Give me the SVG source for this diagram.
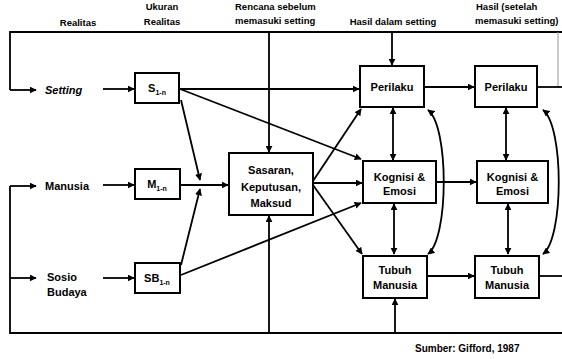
<svg xmlns="http://www.w3.org/2000/svg" width="562" height="359" viewBox="0 0 562 359">
<defs>
<marker id="ah" viewBox="0 0 10 10" refX="9" refY="5" markerWidth="7" markerHeight="7" markerUnits="userSpaceOnUse" orient="auto-start-reverse">
<path d="M0,0 L10,5 L0,10 z" fill="#000"/>
</marker>
<style>
text{font-family:"Liberation Sans",Arial,sans-serif;fill:#000;font-weight:bold}
.bx{fill:#fff;stroke:#000;stroke-width:2}
.lbl{font-size:11px;text-anchor:middle}
.side{font-size:11px}
.top{font-size:9.5px}
.c{fill:none;stroke:#000;stroke-width:1.8}
.a{marker-end:url(#ah)}
.d{marker-start:url(#ah);marker-end:url(#ah)}
.sub{font-size:7px}
</style>
</defs>
<rect width="562" height="359" fill="#fff"/>

<g id="labels-top">
<text class="top" x="78" y="26" text-anchor="middle">Realitas</text>
<text class="top" x="162" y="10" text-anchor="middle">Ukuran</text>
<text class="top" x="162" y="25" text-anchor="middle">Realitas</text>
<text class="top" x="235" y="10">Rencana sebelum</text>
<text class="top" x="235" y="24">memasuki setting</text>
<text class="top" x="393" y="25" text-anchor="middle">Hasil dalam setting</text>
<text class="top" x="476" y="10">Hasil (setelah</text>
<text class="top" x="475" y="24">memasuki setting)</text>
</g>

<g id="connectors">
<polyline class="c" points="562,32 10,32 10,90"/>
<line class="c a" x1="10" y1="90" x2="36" y2="90"/>
<line class="c" x1="558" y1="32" x2="558" y2="87" stroke="#888" style="stroke:#999;stroke-width:1"/>
<polyline class="c" points="10,186 10,333 562,333"/>
<line class="c a" x1="10" y1="186" x2="36" y2="186"/>
<line class="c a" x1="10" y1="278" x2="36" y2="278"/>
<line class="c a" x1="103" y1="89" x2="134" y2="89"/>
<line class="c a" x1="103" y1="185" x2="134" y2="185"/>
<line class="c a" x1="103" y1="278" x2="134" y2="278"/>
<line class="c a" x1="269" y1="32" x2="269" y2="152"/>
<line class="c a" x1="269" y1="333" x2="269" y2="216"/>
<line class="c a" x1="392" y1="32" x2="392" y2="65"/>
<line class="c a" x1="395" y1="333" x2="395" y2="299"/>
<line class="c a" x1="180" y1="89" x2="359" y2="89"/>
<line class="c a" x1="180" y1="89" x2="361" y2="159"/>
<line class="c a" x1="181" y1="100" x2="200" y2="180"/>
<line class="c a" x1="181" y1="265" x2="200" y2="189"/>
<line class="c a" x1="180" y1="185" x2="228" y2="185"/>
<line class="c a" x1="181" y1="275" x2="361" y2="203"/>
<line class="c a" x1="313" y1="181" x2="361" y2="109"/>
<line class="c a" x1="313" y1="183" x2="362" y2="183"/>
<line class="c a" x1="313" y1="185" x2="362" y2="254"/>
<line class="c d" x1="393" y1="108" x2="393" y2="160"/>
<line class="c d" x1="394" y1="204" x2="394" y2="254"/>
<line class="c d" x1="506" y1="108" x2="506" y2="160"/>
<line class="c d" x1="508" y1="204" x2="508" y2="254"/>
<path class="c d" d="M428,110 C449,126 449,238 428,254"/>
<path class="c d" d="M543,110 C564,126 564,238 543,254"/>
<line class="c a" x1="424" y1="87" x2="474" y2="87"/>
<line class="c a" x1="436" y1="182" x2="476" y2="182"/>
<line class="c a" x1="427" y1="276" x2="474" y2="276"/>
<line class="c" x1="537" y1="87" x2="562" y2="87"/>
<line class="c" x1="539" y1="276" x2="562" y2="276"/>
</g>

<g id="setting"><text class="side" x="45" y="94" font-style="italic">Setting</text></g>
<g id="manusia"><text class="side" x="45" y="190">Manusia</text></g>
<g id="sosio-budaya"><text class="side" x="47" y="281">Sosio</text><text class="side" x="47" y="296">Budaya</text></g>

<g id="s-box"><rect class="bx" x="135" y="73" width="44" height="30"/><text class="lbl" x="157" y="92">S<tspan class="sub" dy="3">1-n</tspan></text></g>
<g id="m-box"><rect class="bx" x="135" y="169" width="45" height="30"/><text class="lbl" x="157" y="188">M<tspan class="sub" dy="3">1-n</tspan></text></g>
<g id="sb-box"><rect class="bx" x="135" y="263" width="45" height="30"/><text class="lbl" x="157" y="282">SB<tspan class="sub" dy="3">1-n</tspan></text></g>

<g id="sasaran"><rect class="bx" x="229" y="153" width="84" height="62"/>
<text class="lbl" x="271" y="174">Sasaran,</text><text class="lbl" x="271" y="191">Keputusan,</text><text class="lbl" x="271" y="207">Maksud</text></g>

<g id="perilaku1"><rect class="bx" x="360" y="66" width="64" height="41"/><text class="lbl" x="392" y="91">Perilaku</text></g>
<g id="kognisi1"><rect class="bx" x="363" y="161" width="73" height="42"/><text class="lbl" x="399.5" y="181">Kognisi &amp;</text><text class="lbl" x="399.5" y="195">Emosi</text></g>
<g id="tubuh1"><rect class="bx" x="363" y="256" width="64" height="42"/><text class="lbl" x="395" y="274">Tubuh</text><text class="lbl" x="395" y="289">Manusia</text></g>

<g id="perilaku2"><rect class="bx" x="475" y="66" width="62" height="41"/><text class="lbl" x="506" y="91">Perilaku</text></g>
<g id="kognisi2"><rect class="bx" x="477" y="161" width="71" height="42"/><text class="lbl" x="512.5" y="181">Kognisi &amp;</text><text class="lbl" x="512.5" y="195">Emosi</text></g>
<g id="tubuh2"><rect class="bx" x="475" y="256" width="64" height="42"/><text class="lbl" x="507" y="274">Tubuh</text><text class="lbl" x="507" y="289">Manusia</text></g>

<g id="source"><text x="415" y="352" font-size="10">Sumber: Gifford, 1987</text></g>
</svg>
